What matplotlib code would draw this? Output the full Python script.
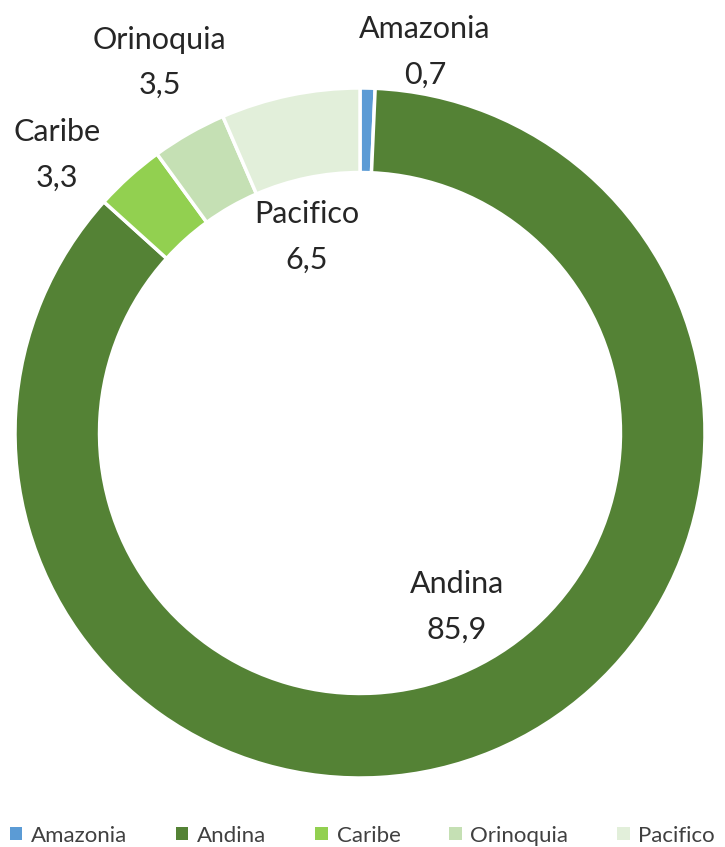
import matplotlib
matplotlib.use("Agg")
import matplotlib.pyplot as plt
from matplotlib.patches import Patch

categories = ["Amazonia", "Andina", "Caribe", "Orinoquia", "Pacifico"]
values = [0.7, 85.9, 3.3, 3.5, 6.5]
labels = ["0,7", "85,9", "3,3", "3,5", "6,5"]
colors = ["#5B9BD5", "#548235", "#92D050", "#C5E0B4", "#E2EFDA"]

plt.rcParams['font.family'] = ['Lato', 'DejaVu Sans']

fig = plt.figure(figsize=(7.25, 8.47), dpi=100)
ax = fig.add_axes([15/725, (847-778)/847, 690/725, 690/847])
ax.pie(values, colors=colors, startangle=90, counterclock=False,
       radius=1.0, wedgeprops=dict(width=0.245, edgecolor='white', linewidth=2.5))
ax.set_xlim(-1, 1)
ax.set_ylim(-1, 1)
ax.set_aspect('equal')
ax.axis('off')

label_pos = {
    "Amazonia": (0.188, 1.104),
    "Andina": (0.281, -0.504),
    "Caribe": (-0.878, 0.806),
    "Orinoquia": (-0.580, 1.075),
    "Pacifico": (-0.154, 0.568),
}
for cat, lab in zip(categories, labels):
    x, y = label_pos[cat]
    ax.text(x, y, f"{cat}\n{lab}", ha='center', va='center', fontsize=22,
            color='#262626', linespacing=1.75, clip_on=False)

handles = [Patch(facecolor=c, edgecolor='none') for c in colors]
fig.legend(handles, categories, loc='lower center', bbox_to_anchor=(0.5, -0.022),
           ncol=5, frameon=False, fontsize=16, handlelength=0.55, handleheight=0.55,
           handletextpad=0.4, columnspacing=2.2, labelcolor='#404040')

fig.savefig("out.png", dpi=100)
